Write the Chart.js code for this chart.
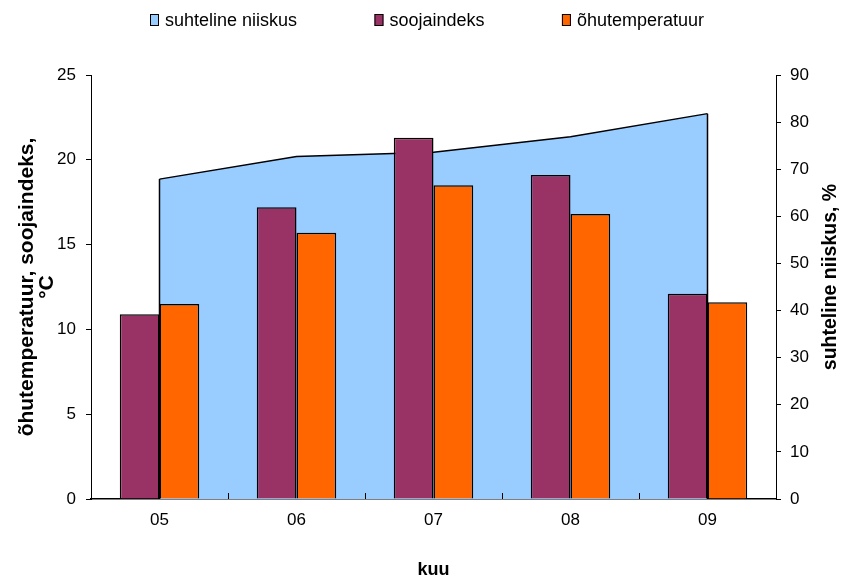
<!DOCTYPE html>
<html>
<head>
<meta charset="utf-8">
<script src="https://cdn.jsdelivr.net/npm/chart.js@4"></script>
<style>
  html, body { margin: 0; padding: 0; background: #fff; }
  #wrap { width: 841px; height: 575px; }
</style>
</head>
<body>
<div id="wrap"><canvas id="c" width="841" height="575"></canvas></div>
<script>
// Monthly values
const months = ['05', '06', '07', '08', '09'];
const humidity = [67.9, 72.7, 73.6, 76.9, 81.8];      // suhteline niiskus, %
const heatIndex = [10.9, 17.2, 21.3, 19.1, 12.1];     // soojaindeks, °C
const airTemp = [11.5, 15.7, 18.5, 16.8, 11.6];       // õhutemperatuur, °C

// Axis ranges
const leftAxis = { min: 0, max: 25, step: 5 };
const rightAxis = { min: 0, max: 90, step: 10 };

const FONT = '"Liberation Sans", Arial, Helvetica, sans-serif';
Chart.defaults.font.family = FONT;
Chart.defaults.font.size = 17;
Chart.defaults.color = '#000';

// Vertical closing edges of the humidity area
const areaEdges = {
  id: 'areaEdges',
  afterDatasetDraw(chart, args) {
    if (args.index !== 0) return;
    const pts = args.meta.data;
    const y0 = chart.scales.yR.getPixelForValue(0);
    const ctx = chart.ctx;
    ctx.save();
    ctx.strokeStyle = '#000';
    ctx.lineWidth = 1.5;
    [pts[0], pts[pts.length - 1]].forEach(p => {
      ctx.beginPath();
      ctx.moveTo(p.x, p.y);
      ctx.lineTo(p.x, y0);
      ctx.stroke();
    });
    ctx.restore();
  }
};

// Short inward tick marks between categories
const categoryTicks = {
  id: 'categoryTicks',
  afterDatasetsDraw(chart) {
    const xs = chart.scales.x;
    const bottom = chart.chartArea.bottom;
    const ctx = chart.ctx;
    ctx.save();
    ctx.strokeStyle = '#000';
    ctx.lineWidth = 1;
    for (let i = 1; i < months.length; i++) {
      const x = Math.round((xs.getPixelForValue(i - 1) + xs.getPixelForValue(i)) / 2) + 0.5;
      ctx.beginPath();
      ctx.moveTo(x, bottom);
      ctx.lineTo(x, bottom - 6);
      ctx.stroke();
    }
    ctx.restore();
  }
};

// Right axis title, read bottom to top
const rightTitle = {
  id: 'rightTitle',
  afterDraw(chart) {
    const ctx = chart.ctx;
    ctx.save();
    ctx.translate(831, 277);
    ctx.rotate(-Math.PI / 2);
    ctx.font = 'bold 19.5px ' + FONT;
    ctx.fillStyle = '#000';
    ctx.textAlign = 'center';
    ctx.textBaseline = 'middle';
    ctx.fillText('suhteline niiskus, %', 0, 0);
    ctx.restore();
  }
};

// Legend row across the top
const topLegend = {
  id: 'topLegend',
  afterDraw(chart) {
    const ctx = chart.ctx;
    const ds = chart.data.datasets;
    ctx.save();
    ctx.font = '18px ' + FONT;
    const boxW = 9, boxH = 12, gapText = 6;
    const left = 150, right = 704, y = 20;
    const widths = ds.map(d => boxW + gapText + ctx.measureText(d.label).width);
    const used = widths.reduce((s, w) => s + w, 0);
    const gapItem = (right - left - used) / (ds.length - 1);
    let x = left;
    ds.forEach((d, i) => {
      ctx.fillStyle = d.backgroundColor;
      ctx.fillRect(x, y - boxH / 2, boxW, boxH);
      ctx.strokeStyle = '#000';
      ctx.lineWidth = 1;
      ctx.strokeRect(x + 0.5, y - boxH / 2 + 0.5, boxW - 1, boxH - 1);
      ctx.fillStyle = '#000';
      ctx.textAlign = 'left';
      ctx.textBaseline = 'middle';
      ctx.fillText(d.label, x + boxW + gapText, y + 1);
      x += widths[i] + gapItem;
    });
    ctx.restore();
  }
};

new Chart(document.getElementById('c'), {
  data: {
    labels: months,
    datasets: [
      {
        type: 'line',
        label: 'suhteline niiskus',
        data: humidity,
        yAxisID: 'yR',
        fill: 'origin',
        backgroundColor: '#99CCFF',
        borderColor: '#000',
        borderWidth: 1.5,
        pointRadius: 0,
        tension: 0,
        order: 2
      },
      {
        type: 'bar',
        label: 'soojaindeks',
        data: heatIndex,
        yAxisID: 'yL',
        backgroundColor: '#993366',
        borderColor: '#000',
        borderWidth: 1.5,
        categoryPercentage: 0.58,
        barPercentage: 1.0,
        order: 1
      },
      {
        type: 'bar',
        label: 'õhutemperatuur',
        data: airTemp,
        yAxisID: 'yL',
        backgroundColor: '#FF6600',
        borderColor: '#000',
        borderWidth: 1.5,
        categoryPercentage: 0.58,
        barPercentage: 1.0,
        order: 1
      }
    ]
  },
  options: {
    responsive: false,
    animation: false,
    layout: { padding: { top: 75, left: 0, right: 0, bottom: 0 } },
    plugins: {
      legend: { display: false },
      tooltip: { enabled: false }
    },
    scales: {
      x: {
        type: 'category',
        offset: true,
        grid: { display: true, drawOnChartArea: false, drawTicks: false },
        border: { display: true, color: '#000', width: 1.5 },
        ticks: { padding: 11, font: { size: 17 } },
        title: { display: true, text: 'kuu', font: { size: 18, weight: 'bold' }, padding: { top: 0, bottom: -6 } },
        afterFit(s) { s.height = 76; }
      },
      yL: {
        type: 'linear',
        position: 'left',
        min: leftAxis.min,
        max: leftAxis.max,
        ticks: { stepSize: leftAxis.step, padding: 10, font: { size: 17 } },
        grid: { drawOnChartArea: false, drawTicks: true, tickLength: 5, color: '#000' },
        border: { display: true, color: '#000', width: 1 },
        title: {
          display: true,
          text: ['õhutemperatuur, soojaindeks,', '°C'],
          font: { size: 21, weight: 'bold', lineHeight: 0.95 },
          padding: { top: 17, bottom: 0 }
        },
        afterFit(s) { s.width = 91; }
      },
      yR: {
        type: 'linear',
        position: 'right',
        min: rightAxis.min,
        max: rightAxis.max,
        ticks: { stepSize: rightAxis.step, padding: 9, font: { size: 17 } },
        grid: { drawOnChartArea: false, drawTicks: true, tickLength: 5, color: '#000' },
        border: { display: true, color: '#000', width: 1 },
        afterFit(s) { s.width = 65; }
      }
    }
  },
  plugins: [areaEdges, categoryTicks, rightTitle, topLegend]
});
</script>
</body>
</html>
